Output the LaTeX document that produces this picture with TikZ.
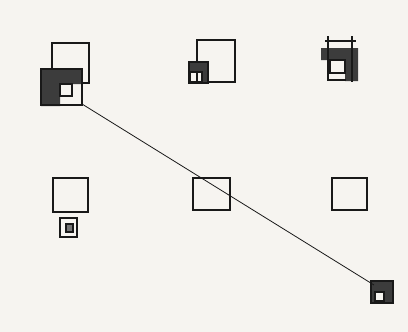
\documentclass[tikz,border=0pt]{standalone}
\definecolor{paper}{RGB}{246,244,240}
\definecolor{ink}{RGB}{25,25,25}
\begin{document}
\begin{tikzpicture}[x=1pt, y=-1pt,
    sq/.style={draw=ink, line width=1.8pt, line cap=rect},
    dark/.style={fill=ink!85},
    thinline/.style={draw=ink, line width=.8pt}]
  \fill[paper] (0,0) rectangle (408,332);

  \coordinate (FROM) at (82,104);
  \coordinate (TO) at (374,285);

  % top row
  \draw[sq] (52,43) rectangle (89,83);
  \fill[dark] (41,69) -- (81,69) -- (81,84) -- (60,84) -- (60,106) -- (41,106) -- cycle;
  \draw[sq] (41,69) rectangle (82,105);
  \draw[sq] (60,84) rectangle (72,96);

  \draw[sq] (197,40) rectangle (235,82);
  \fill[dark] (189,62) rectangle (208,72) (202,72) rectangle (208,83);
  \draw[sq] (189,62) rectangle (208,83);
  \draw[sq] (190,72) rectangle (202,82);

  \fill[dark] (321,48) rectangle (358,60) (345,60) rectangle (358,81);
  \draw[sq] (328,37) -- (328,80) -- (345,80);
  \draw[sq] (326,41) -- (355,41) (352,37) -- (352,81);
  \draw[sq] (330,60) rectangle (345,73);

  % middle row
  \draw[sq] (53,178) rectangle (88,212);
  \draw[sq] (60,218) rectangle (77,237);
  \draw[sq, fill=ink!60] (66,224) rectangle (73,232);

  \draw[sq] (193,178) rectangle (230,210);
  \draw[sq] (332,178) rectangle (367,210);

  % corner
  \fill[dark] (371,281) rectangle (393,303);
  \draw[sq] (371,281) rectangle (393,303);
  \draw[sq, fill=paper] (375,292) rectangle (384,301);

  \draw[thinline] (FROM) -- (TO);
\end{tikzpicture}
\end{document}
